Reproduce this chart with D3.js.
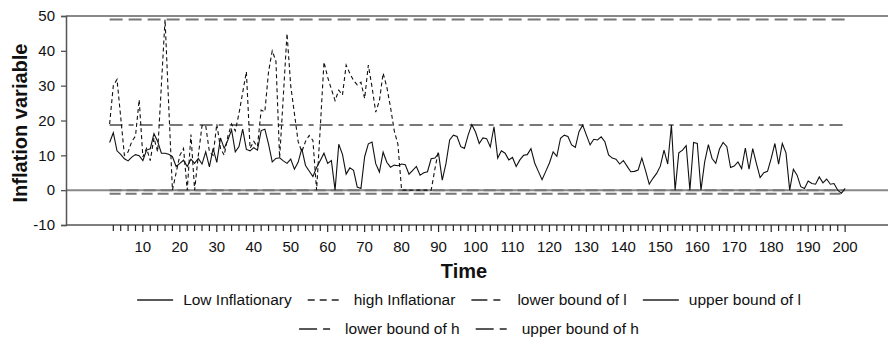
<!DOCTYPE html>
<html>
<head>
<meta charset="utf-8">
<script src="https://cdn.jsdelivr.net/npm/d3@7"></script>
<style>
  body { margin: 0; background: #fff; }
  text { font-family: "Liberation Sans", Arial, sans-serif; fill: #111; }
</style>
</head>
<body>
<svg class="chart"></svg>
<script>
const width = 888;
const height = 352;

// data: time runs 1..n
const lowInflation = [
	13.7, 16.5, 11.3, 10.3, 9, 8.4, 9.5, 10.2, 9.9, 8.5,
	11.5, 11.9, 16.2, 14, 10.6, 10.6, 10.3, 9.6, 6.8, 7.7,
	8.6, 6.8, 8.9, 7.7, 9.1, 7.5, 11, 6.7, 12, 8,
	15, 12, 14.4, 17.3, 11, 12.5, 17.5, 11.7, 11.3, 12.2,
	11.5, 17.1, 17.5, 13.2, 8.1, 9.1, 9.3, 8.4, 7.7, 8.9,
	6, 8, 11.9, 7.1, 5.5, 3.9, 6.5, 8.5, 10.6, 7.7,
	8.5, 0, 13.2, 10.3, 4.6, 6.4, 5.7, 0.9, 0.5, 9.6,
	13.3, 13.8, 7.6, 5.2, 10.9, 8, 6.6, 7.2, 7, 7.5,
	7.3, 4.6, 5.7, 6.8, 4.3, 5, 5.3, 9, 9.2, 10.5,
	2.9, 7.6, 14.4, 15.8, 15.4, 12.5, 12, 15.8, 18.8, 16.7,
	13.4, 15, 14.8, 12.4, 18.2, 9.2, 11.3, 10.6, 8.7, 9.4,
	6.8, 8.7, 10, 10.2, 11.9, 7.8, 5.4, 3, 5.4, 7.8,
	11, 9.7, 14.9, 15.8, 15.4, 13, 12.3, 16.8, 18.7, 15.8,
	13, 14.6, 14.4, 15.3, 13.9, 10.1, 9.2, 8.9, 7.5, 8.5,
	6.9, 5.3, 5.4, 5.8, 9.2, 5.6, 1.7, 3.4, 4.8, 6.9,
	11.5, 7.5, 18.7, 0, 10.7, 11.5, 12.8, 0, 13.7, 13.4,
	0, 8.1, 13.1, 9.1, 7.7, 11.8, 13.7, 12.5, 6.5, 6.9,
	8.1, 6.2, 12.1, 6, 11.9, 7.6, 3.6, 5, 5.4, 9.1,
	13.4, 7.5, 13.4, 10.7, 0, 6, 4.3, 1, 0.5, 2.6,
	1.9, 1.7, 3.8, 2.1, 3.2, 1.7, 1.9, 0, -0.9, 0.5
];

const highInflation = [
	19, 30, 31.8, 21, 10, 11, 14, 15.5, 26, 9.5,
	12, 8.5, 15, 11, 30, 49, 24, 0, 5, 10,
	12, 0, 16, 0, 10, 18.5, 18.5, 11, 10, 19,
	12, 10, 15.5, 19, 17, 22, 28, 34, 12, 14,
	12.5, 23, 22.5, 34, 40, 37, 9.3, 27, 45, 30,
	22, 14, 11, 14, 15.7, 14.3, 0, 18, 36.8, 32.4,
	29, 25.7, 28.7, 27.3, 35.9, 33.5, 31.5, 30.2, 31, 26.3,
	35.9, 29.6, 22.4, 25.7, 33.6, 29.6, 23.8, 17.1, 13.2, 0,
	0, 0, 0, 0, 0, 0, 0, 0, 6, 11.5
];

const lowerBoundL = 0;
const upperBoundL = 18.7;
const lowerBoundH = -1;
const upperBoundH = 49;

const yTicks = [-10, 0, 10, 20, 30, 40, 50];
const xLabels = d3.range(10, 201, 10);
const xMinorTicks = d3.range(2, 201, 2);

const seriesNames = ['Low Inflationary', 'high Inflationar', 'lower bound of l',
	'upper bound of l', 'lower bound of h', 'upper bound of h'];

const svg = d3.select('svg.chart')
	.attr('width', width)
	.attr('height', height);

const plotLeft = 66, plotRight = 888, plotTop = 16, plotBottom = 225;

const x = d3.scaleLinear().domain([-10.8, 211.6]).range([plotLeft, plotRight]);
const y = d3.scaleLinear().domain([-10, 50]).range([plotBottom, plotTop]);

// line styles in the plot, and the (shorter) patterns shown in the legend
const styles = {
	'Low Inflationary': { stroke: '#111', width: 1.1, dash: null, key: null },
	'high Inflationar': { stroke: '#111', width: 1.1, dash: '4,3', key: '7,5' },
	'lower bound of l': { stroke: '#777', width: 2, dash: '12,5', key: '16,6,7,7' },
	'upper bound of l': { stroke: '#777', width: 2, dash: '13,6,5,6', key: null },
	'lower bound of h': { stroke: '#777', width: 2, dash: '11,5', key: '18,6,7,5' },
	'upper bound of h': { stroke: '#777', width: 2, dash: '13,6', key: '18,6,7,5' }
};

const g = svg.append('g');

// gridlines at 0 and 50
g.selectAll('line.grid')
	.data([0, 50])
	.enter().append('line')
	.attr('class', 'grid')
	.attr('x1', plotLeft).attr('x2', plotRight)
	.attr('y1', d => y(d)).attr('y2', d => y(d))
	.attr('stroke', '#888')
	.attr('stroke-width', 2);

// bound lines
const bounds = [
	{ name: 'upper bound of h', value: upperBoundH },
	{ name: 'upper bound of l', value: upperBoundL },
	{ name: 'lower bound of l', value: lowerBoundL },
	{ name: 'lower bound of h', value: lowerBoundH }
];

g.selectAll('line.bound')
	.data(bounds)
	.enter().append('line')
	.attr('class', 'bound')
	.attr('x1', x(1)).attr('x2', x(lowInflation.length))
	.attr('y1', d => y(d.value)).attr('y2', d => y(d.value))
	.attr('stroke', d => styles[d.name].stroke)
	.attr('stroke-width', d => styles[d.name].width)
	.attr('stroke-dasharray', d => styles[d.name].dash);

// axes
const yAxis = d3.axisLeft(y).tickValues(yTicks).tickFormat(d => String(d)).tickSize(5).tickPadding(6);
const yg = g.append('g').attr('transform', `translate(${plotLeft},0)`).call(yAxis);
yg.select('.domain').attr('stroke', '#555').attr('stroke-width', 1.5);
yg.selectAll('.tick line').attr('stroke', '#555').attr('stroke-width', 1.3);
yg.selectAll('.tick text')
	.style('font-size', '15px')
	.attr('fill', '#111');

const xg = g.append('g').attr('transform', `translate(0,${plotBottom})`);
xg.append('line')
	.attr('x1', plotLeft).attr('x2', plotRight)
	.attr('stroke', '#555').attr('stroke-width', 1.5);
xg.selectAll('line.tick')
	.data(xMinorTicks)
	.enter().append('line')
	.attr('class', 'tick')
	.attr('x1', d => x(d)).attr('x2', d => x(d))
	.attr('y1', 0).attr('y2', d => d % 10 === 0 ? 7 : 6)
	.attr('stroke', '#222').attr('stroke-width', 1.2);
xg.selectAll('text')
	.data(xLabels)
	.enter().append('text')
	.attr('x', d => x(d))
	.attr('y', 27)
	.attr('text-anchor', 'middle')
	.style('font-size', '15px')
	.text(d => d);

// titles
g.append('text')
	.attr('x', 464).attr('y', 278)
	.attr('text-anchor', 'middle')
	.style('font-size', '20px').style('font-weight', 'bold')
	.text('Time');

g.append('text')
	.attr('transform', 'translate(27,123) rotate(-90)')
	.attr('text-anchor', 'middle')
	.style('font-size', '20px').style('font-weight', 'bold')
	.text('Inflation variable');

// series lines
const line = d3.line()
	.x((d, i) => x(i + 1))
	.y(d => y(d));

g.append('path')
	.datum(highInflation)
	.attr('d', line)
	.attr('fill', 'none')
	.attr('stroke', styles['high Inflationar'].stroke)
	.attr('stroke-width', styles['high Inflationar'].width)
	.attr('stroke-dasharray', styles['high Inflationar'].dash);

g.append('path')
	.datum(lowInflation)
	.attr('d', line)
	.attr('fill', 'none')
	.attr('stroke', styles['Low Inflationary'].stroke)
	.attr('stroke-width', styles['Low Inflationary'].width);

// legend
const rows = [seriesNames.slice(0, 4), seriesNames.slice(4)];
const sampleLen = 36, sampleGap = 10, itemGap = 16;
const legendCenter = 469;

rows.forEach((names, r) => {
	const row = g.append('g').attr('transform', `translate(0,${300 + r * 29})`);
	const items = row.selectAll('g')
		.data(names)
		.enter().append('g');
	items.append('line')
		.attr('x1', 0).attr('x2', sampleLen)
		.attr('stroke', '#222')
		.attr('stroke-width', 1.4)
		.attr('stroke-dasharray', d => styles[d].key);
	items.append('text')
		.attr('x', sampleLen + sampleGap)
		.attr('y', 5)
		.style('font-size', '15.5px')
		.text(d => d);

	let widths = [];
	items.each(function() { widths.push(sampleLen + sampleGap + this.querySelector('text').getComputedTextLength()); });
	const total = d3.sum(widths) + itemGap * (widths.length - 1);
	let cx = legendCenter - total / 2;
	items.attr('transform', (d, i) => {
		const t = `translate(${cx},0)`;
		cx += widths[i] + itemGap;
		return t;
	});
});
</script>
</body>
</html>
